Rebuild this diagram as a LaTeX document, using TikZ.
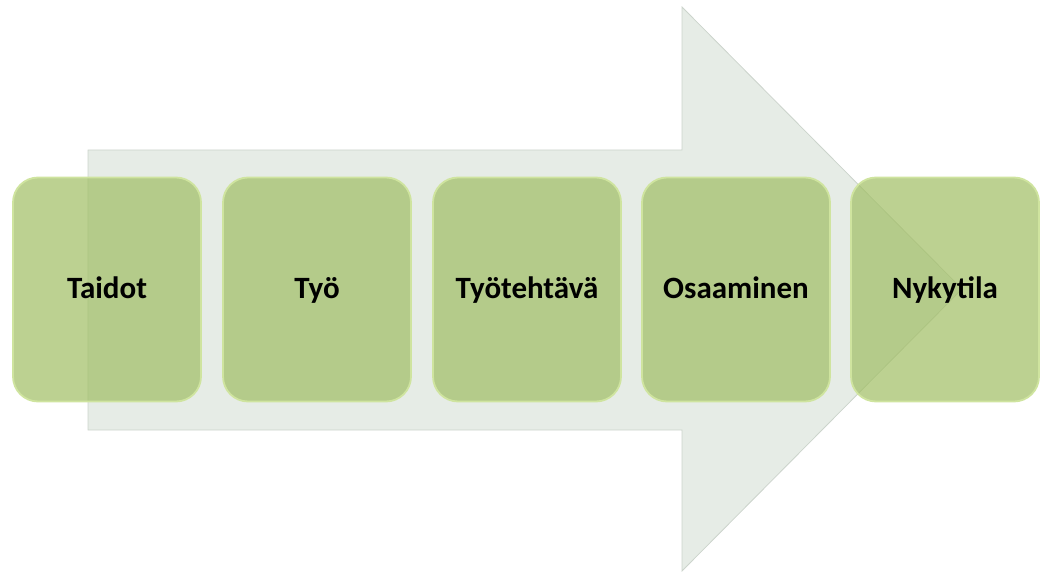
\documentclass[tikz,border=0pt]{standalone}
\usepackage{fontspec}
\setmainfont{Carlito}
\definecolor{arrowfill}{HTML}{E6ECE6}
\definecolor{arrowline}{HTML}{CCD4CC}
\definecolor{boxfill}{HTML}{A0BE63}
\definecolor{boxline}{HTML}{CFE49F}
\tikzset{
  stepbox/.style={rectangle, rounded corners=25pt, minimum width=188pt, minimum height=224pt,
    fill=boxfill, fill opacity=0.7, text opacity=1, draw=boxline, line width=1.8pt,
    font=\fontsize{31}{36}\selectfont\bfseries, text=black, inner sep=0pt,
    text height=24pt, text depth=7pt},
  bigarrow/.style={fill=arrowfill, draw=arrowline, line width=0.8pt}
}
\begin{document}
\begin{tikzpicture}[x=1pt,y=-1pt]
\useasboundingbox (0,0) rectangle (1040,572);
\draw[bigarrow] (88,150) -- (682,150) -- (682,7) -- (962,289) -- (682,571) -- (682,430) -- (88,430) -- cycle;
\node[stepbox] (taidot) at (107,289.5) {Taidot};
\node[stepbox] (tyo) at (317,289.5) {Työ};
\node[stepbox] (tyotehtava) at (527,289.5) {Työtehtävä};
\node[stepbox] (osaaminen) at (736,289.5) {Osaaminen};
\node[stepbox] (nykytila) at (945,289.5) {Nykytila};
\end{tikzpicture}
\end{document}
